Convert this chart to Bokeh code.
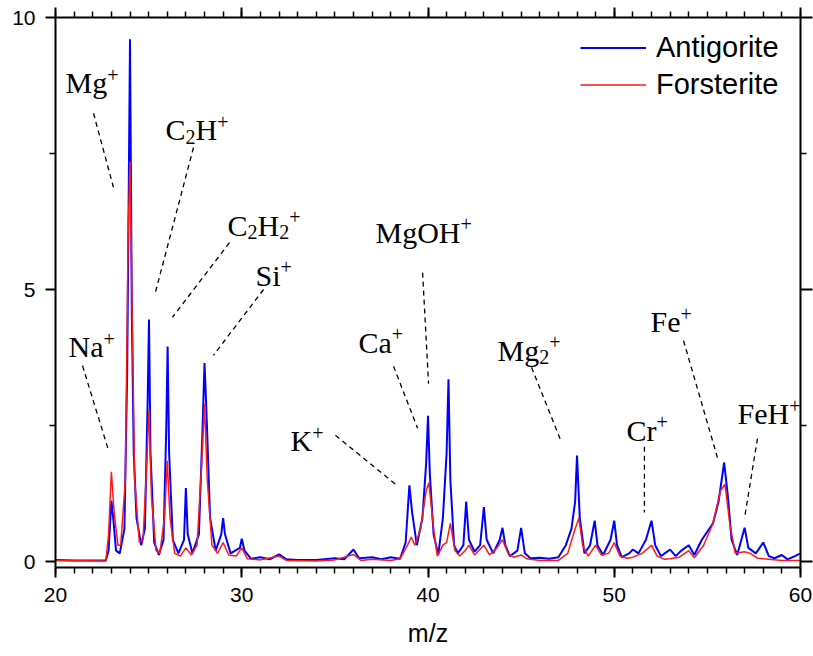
from bokeh.plotting import figure
from bokeh.models import Range1d, LinearAxis, FixedTicker, Label, Legend, LegendItem
from bokeh.embed import file_html
from bokeh.resources import INLINE

# ---------------- data ----------------
mz_antigorite = [20.0, 21.0, 22.0, 22.7, 22.85, 23.0, 23.1, 23.25, 23.45, 23.7, 23.85, 24.0, 24.1, 24.2,
                 24.35, 24.6, 24.8, 24.95, 25.02, 25.1, 25.3, 25.55, 25.8, 25.95, 26.02, 26.1, 26.3, 26.6,
                 26.9, 27.0, 27.1, 27.35, 27.7, 27.9, 28.0, 28.1, 28.3, 28.6, 28.9, 29.0, 29.1, 29.4, 29.9,
                 30.0, 30.15, 30.5, 31.0, 31.5, 32.0, 32.4, 33.0, 34.0, 35.0, 35.5, 36.0, 36.3, 37.0, 37.5,
                 38.0, 38.5, 38.8, 39.0, 39.15, 39.4, 39.7, 39.9, 40.0, 40.1, 40.3, 40.55, 40.8, 41.0, 41.1,
                 41.2, 41.4, 41.6, 41.9, 42.05, 42.2, 42.5, 42.8, 43.0, 43.15, 43.5, 43.85, 44.0, 44.15,
                 44.4, 44.8, 45.0, 45.2, 45.5, 46.0, 46.5, 47.0, 47.4, 47.7, 47.9, 48.0, 48.15, 48.4, 48.7,
                 48.95, 49.1, 49.4, 49.8, 50.0, 50.15, 50.4, 50.8, 51.0, 51.3, 51.7, 52.0, 52.2, 52.5, 53.0,
                 53.3, 53.6, 54.0, 54.3, 54.7, 55.0, 55.3, 55.6, 55.9, 56.1, 56.3, 56.6, 57.0, 57.2, 57.6,
                 58.0, 58.3, 58.6, 59.0, 59.3, 59.7, 60.0]
int_antigorite = [0.03, 0.02, 0.02, 0.02, 0.2, 1.12, 0.8, 0.2, 0.15, 0.6, 3.5, 9.6, 4.5, 2.0,
                  0.8, 0.3, 0.6, 3.0, 4.45, 2.0, 0.35, 0.12, 0.4, 2.5, 3.95, 2.0, 0.4, 0.15,
                  0.4, 1.35, 0.5, 0.15, 0.5, 2.5, 3.65, 2.8, 0.8, 0.2, 0.5, 0.8, 0.5, 0.15, 0.25,
                  0.42, 0.2, 0.05, 0.08, 0.04, 0.13, 0.04, 0.03, 0.03, 0.06, 0.04, 0.22, 0.06, 0.08, 0.04,
                  0.08, 0.05, 0.35, 1.4, 0.9, 0.3, 0.8, 1.8, 2.68, 1.6, 0.5, 0.12, 0.8, 2.0, 3.35,
                  1.5, 0.3, 0.15, 0.3, 1.1, 0.4, 0.18, 0.3, 1.0, 0.4, 0.15, 0.4, 0.62, 0.3,
                  0.1, 0.2, 0.62, 0.15, 0.06, 0.07, 0.05, 0.08, 0.3, 0.6, 1.1, 1.95, 0.8, 0.15, 0.3,
                  0.75, 0.3, 0.12, 0.4, 0.75, 0.3, 0.08, 0.15, 0.22, 0.15, 0.4, 0.75, 0.3, 0.1, 0.22,
                  0.1, 0.2, 0.3, 0.12, 0.4, 0.55, 0.7, 1.1, 1.82, 1.2, 0.4, 0.12, 0.62, 0.25, 0.15,
                  0.35, 0.1, 0.06, 0.12, 0.04, 0.1, 0.15]

mz_forsterite = [20.0, 22.7, 22.85, 23.0, 23.15, 23.35, 23.5, 23.75, 23.9, 24.0, 24.1, 24.25, 24.5, 24.7,
                 24.9, 25.02, 25.15, 25.4, 25.6, 25.85, 26.0, 26.15, 26.4, 26.7, 27.0, 27.3, 27.6, 27.85,
                 28.0, 28.15, 28.4, 28.7, 29.0, 29.3, 29.7, 30.0, 30.3, 31.0, 32.0, 32.4, 34.0, 35.0, 36.0,
                 36.4, 37.0, 38.0, 38.5, 38.9, 39.1, 39.3, 39.6, 39.9, 40.05, 40.3, 40.5, 40.8, 41.0, 41.2,
                 41.45, 41.7, 42.0, 42.2, 42.5, 43.0, 43.3, 43.7, 44.0, 44.3, 44.6, 45.0, 45.3, 46.0, 47.0,
                 47.5, 47.9, 48.1, 48.3, 48.6, 49.0, 49.3, 49.7, 50.0, 50.3, 50.7, 51.0, 51.5, 52.0, 52.3,
                 52.7, 53.0, 53.5, 54.0, 54.3, 54.8, 55.3, 55.7, 55.95, 56.2, 56.5, 57.0, 57.3, 57.7, 58.0,
                 59.0, 60.0]
int_forsterite = [0.02, 0.01, 0.5, 1.65, 0.9, 0.3, 0.3, 1.5, 6.0, 7.35, 5.0, 1.5, 0.35, 0.4,
                  1.8, 2.8, 1.2, 0.2, 0.15, 0.8, 1.85, 0.8, 0.15, 0.1, 0.25, 0.12, 0.3, 1.8,
                  2.9, 1.5, 0.3, 0.15, 0.35, 0.12, 0.1, 0.25, 0.05, 0.03, 0.1, 0.02, 0.01, 0.03, 0.13,
                  0.02, 0.04, 0.02, 0.05, 0.3, 0.45, 0.3, 0.6, 1.3, 1.45, 0.6, 0.1, 0.3, 0.35, 0.7,
                  0.2, 0.1, 0.2, 0.3, 0.12, 0.3, 0.12, 0.25, 0.4, 0.15, 0.08, 0.12, 0.05, 0.02, 0.02,
                  0.15, 0.6, 0.8, 0.3, 0.1, 0.3, 0.12, 0.15, 0.35, 0.1, 0.06, 0.08, 0.15, 0.3, 0.1,
                  0.04, 0.05, 0.08, 0.2, 0.07, 0.3, 0.7, 1.3, 1.42, 0.7, 0.15, 0.18, 0.15, 0.06, 0.05,
                  0.02, 0.02]

x_major_ticks = [20, 30, 40, 50, 60]
x_minor_ticks = list(range(20, 61))
y_major_ticks = [0, 5, 10]
y_minor_ticks = [2.5, 7.5]

series_names = ["Antigorite", "Forsterite"]

# ion labels: segments (text, kind) with kind n=normal, b=subscript, p=superscript
ion_segments = [
    [("Mg", "n"), ("+", "p")],
    [("C", "n"), ("2", "b"), ("H", "n"), ("+", "p")],
    [("C", "n"), ("2", "b"), ("H", "n"), ("2", "b"), ("+", "p")],
    [("Si", "n"), ("+", "p")],
    [("Na", "n"), ("+", "p")],
    [("Ca", "n"), ("+", "p")],
    [("MgOH", "n"), ("+", "p")],
    [("Mg", "n"), ("2", "b"), ("+", "p")],
    [("K", "n"), ("+", "p")],
    [("Cr", "n"), ("+", "p")],
    [("Fe", "n"), ("+", "p")],
    [("FeH", "n"), ("+", "p")],
]
ion_x = [20.54, 25.91, 29.24, 30.74, 20.70, 36.27, 37.18, 43.73, 32.62, 50.66, 51.95, 56.62]
ion_y = [8.80, 7.94, 6.18, 5.26, 3.95, 4.03, 6.05, 3.88, 2.22, 2.41, 4.41, 2.72]

# dashed leader lines (start near label -> end near peak)
lead_x0 = [22.04, 27.41, 29.34, 31.17, 21.45, 38.15, 39.71, 35.03, 45.56, 51.62, 53.72, 57.69]
lead_y0 = [8.24, 7.61, 5.86, 5.00, 3.60, 3.59, 5.31, 2.32, 3.57, 2.11, 4.06, 2.26]
lead_x1 = [23.11, 25.32, 26.28, 28.48, 22.85, 39.44, 40.03, 38.26, 47.11, 51.62, 55.54, 56.99]
lead_y1 = [6.88, 4.89, 4.49, 3.79, 2.04, 2.45, 3.27, 1.42, 2.24, 0.90, 1.91, 0.79]

# ---------------- figure ----------------
p = figure(width=813, height=656, x_range=Range1d(20, 60), y_range=Range1d(-0.11, 10),
           output_backend="svg", toolbar_location=None,
           x_axis_location=None, y_axis_location=None,
           min_border_left=55, min_border_right=13, min_border_top=17, min_border_bottom=89)
p.grid.visible = False
p.outline_line_color = None
p.background_fill_color = "white"
p.border_fill_color = "white"


def style_axis(ax, labels=True):
    ax.axis_line_width = 2
    ax.axis_line_color = "black"
    ax.major_tick_line_width = 2
    ax.minor_tick_line_width = 1.5
    ax.major_tick_line_color = "black"
    ax.minor_tick_line_color = "black"
    ax.major_tick_in = 0
    ax.minor_tick_in = 0
    ax.major_tick_out = 10
    ax.minor_tick_out = 6
    if labels:
        ax.major_label_text_font = "Liberation Sans"
        ax.major_label_text_font_size = "21px"
        ax.major_label_text_color = "black"
        ax.major_label_standoff = 10
    else:
        ax.major_label_text_font_size = "1px"
        ax.major_label_text_color = None
        ax.major_label_standoff = 0


xb = LinearAxis(ticker=FixedTicker(ticks=x_major_ticks, minor_ticks=x_minor_ticks),
                axis_label="m/z")
style_axis(xb)
xb.axis_label_text_font = "Liberation Sans"
xb.axis_label_text_font_size = "25px"
xb.axis_label_text_font_style = "normal"
xb.axis_label_text_color = "black"
xb.axis_label_standoff = 14
p.add_layout(xb, "below")

xt = LinearAxis(ticker=FixedTicker(ticks=x_major_ticks, minor_ticks=x_minor_ticks))
style_axis(xt, labels=False)
p.add_layout(xt, "above")

yl = LinearAxis(ticker=FixedTicker(ticks=y_major_ticks, minor_ticks=y_minor_ticks))
style_axis(yl)
p.add_layout(yl, "left")

yr = LinearAxis(ticker=FixedTicker(ticks=y_major_ticks, minor_ticks=y_minor_ticks))
style_axis(yr, labels=False)
yr.major_tick_out = 12
p.add_layout(yr, "right")

rb = p.line(mz_antigorite, int_antigorite, line_color="#0000ff", line_width=2)
rr = p.line(mz_forsterite, int_forsterite, line_color="#ff1a1a", line_width=1.5)

p.segment(lead_x0, lead_y0, lead_x1, lead_y1, line_color="black", line_width=1.3, line_dash="5 4")

# Times-metric widths (em) for composing sub/superscripts
W = {"M": 0.889, "g": 0.5, "C": 0.667, "H": 0.722, "S": 0.556, "i": 0.278, "N": 0.722,
     "a": 0.444, "O": 0.722, "K": 0.722, "F": 0.556, "e": 0.444, "r": 0.333, "2": 0.5, "+": 0.564}
BASE = 30
SMALL = 20
for segs, lx, ly in zip(ion_segments, ion_x, ion_y):
    off = 0.0
    for txt, kind in segs:
        size = BASE if kind == "n" else SMALL
        dy = 0 if kind == "n" else (8 if kind == "p" else -7)
        p.add_layout(Label(x=lx, y=ly, x_offset=off, y_offset=dy, text=txt,
                           text_font="Liberation Serif", text_font_size=f"{size}px",
                           text_baseline="alphabetic", text_align="left", text_color="black"))
        off += sum(W.get(c, 0.6) for c in txt) * size

legend = Legend(items=[LegendItem(label=series_names[0], renderers=[rb]),
                       LegendItem(label=series_names[1], renderers=[rr])],
                location=(525, 465))
legend.label_text_font = "Liberation Sans"
legend.label_text_font_size = "29px"
legend.label_text_color = "black"
legend.glyph_width = 66
legend.glyph_height = 35
legend.label_height = 35
legend.spacing = 2
legend.label_standoff = 10
legend.padding = 5
legend.margin = 0
legend.border_line_color = None
legend.background_fill_alpha = 0
p.add_layout(legend)

open("out.html", "w").write(file_html(p, INLINE))
